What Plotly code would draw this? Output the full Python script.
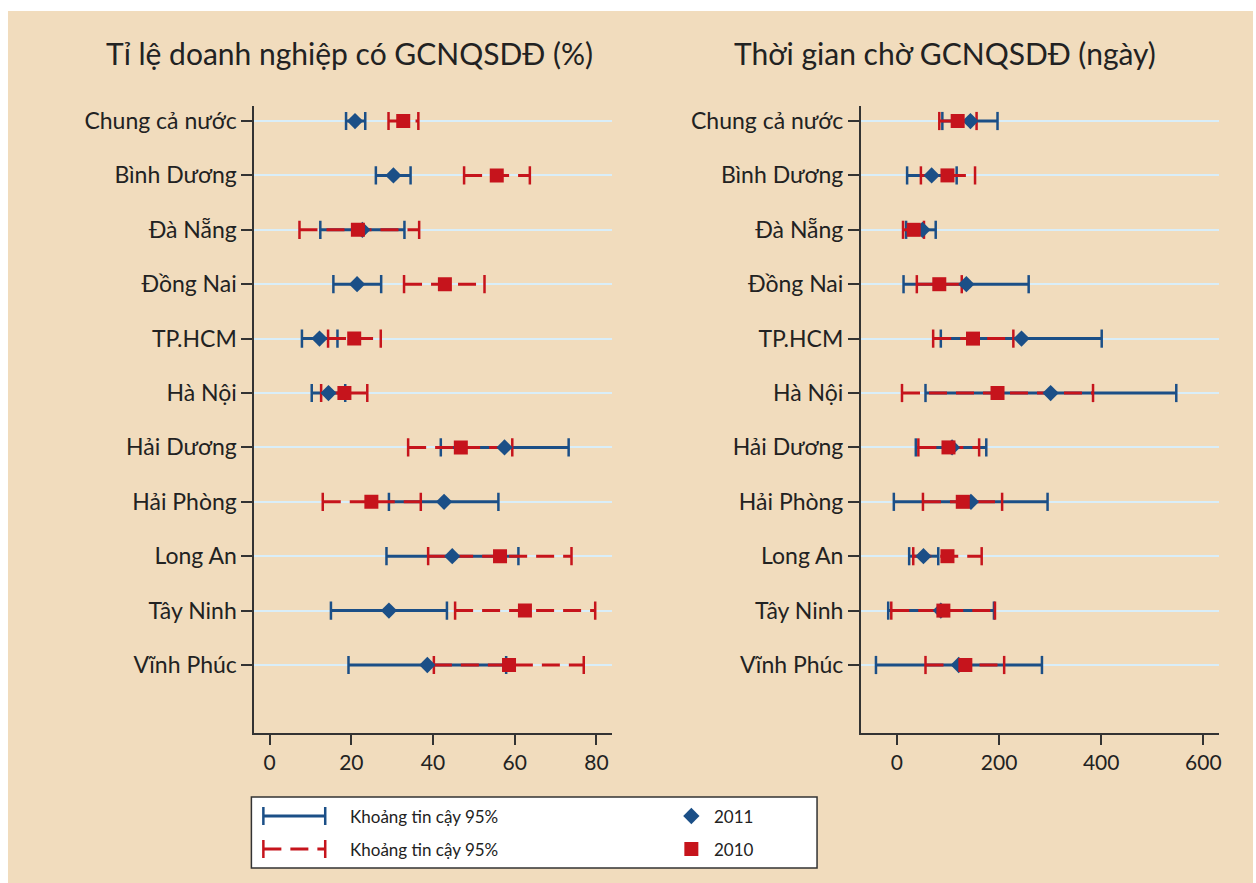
import plotly.graph_objects as go

categories = ["Chung cả nước", "Bình Dương", "Đà Nẵng", "Đồng Nai", "TP.HCM", "Hà Nội",
              "Hải Dương", "Hải Phòng", "Long An", "Tây Ninh", "Vĩnh Phúc"]

# Left panel: share of firms with land-use certificate (%)
pct_2011 = [20.9, 30.3, 22.7, 21.4, 12.2, 14.4, 57.5, 42.7, 44.7, 29.2, 38.6]
pct_2011_lo = [18.7, 26.0, 12.4, 15.6, 7.9, 10.3, 41.9, 29.2, 28.6, 15.0, 19.3]
pct_2011_hi = [23.4, 34.5, 33.0, 27.3, 16.6, 18.5, 73.2, 56.0, 60.9, 43.4, 57.9]
pct_2010 = [32.7, 55.6, 21.6, 42.9, 20.7, 18.3, 46.8, 24.9, 56.4, 62.5, 58.6]
pct_2010_lo = [29.1, 47.6, 7.3, 32.9, 14.3, 12.6, 33.9, 13.0, 38.8, 45.4, 40.2]
pct_2010_hi = [36.4, 63.7, 36.6, 52.6, 27.2, 23.9, 59.4, 37.0, 73.9, 79.7, 76.9]

# Right panel: waiting time for certificate (days)
day_2011 = [144, 68, 50, 136, 244, 301, 108, 145, 52, 86, 121]
day_2011_lo = [89, 20, 18, 13, 86, 56, 37, -6, 24, -17, -41]
day_2011_hi = [197, 117, 76, 258, 401, 547, 175, 295, 81, 190, 284]
day_2010 = [119, 99, 33, 83, 149, 197, 101, 129, 99, 91, 134]
day_2010_lo = [83, 47, 12, 39, 71, 10, 42, 51, 32, -11, 56]
day_2010_hi = [156, 153, 53, 127, 228, 384, 161, 206, 166, 192, 210]

x_ticks_pct = [0, 20, 40, 60, 80]
x_ticks_day = [0, 200, 400, 600]

titles = ["Tỉ lệ doanh nghiệp có GCNQSDĐ (%)", "Thời gian chờ GCNQSDĐ (ngày)"]
legend_ci = "Khoảng tin cậy 95%"
legend_years = ["2011", "2010"]

BLUE = "#1B4F87"
RED = "#C6141C"
BEIGE = "#F1DCBD"
FONT = "Lato"
W, H = 1256, 883

fig = go.Figure()


def ci_traces(lo, hi, color, dash, xa, ya):
    xs, ys = [], []
    for c, a, b in zip(categories, lo, hi):
        xs += [a, b, None]
        ys += [c, c, None]
    fig.add_trace(go.Scatter(x=xs, y=ys, mode="lines", xaxis=xa, yaxis=ya,
                             line=dict(color=color, width=3, dash=dash),
                             hoverinfo="skip", showlegend=False))
    fig.add_trace(go.Scatter(x=list(lo) + list(hi), y=categories + categories, mode="markers",
                             xaxis=xa, yaxis=ya,
                             marker=dict(symbol="line-ns", size=13,
                                         line=dict(color=color, width=2.5)),
                             hoverinfo="skip", showlegend=False))


def points(vals, color, symbol, size, xa, ya):
    fig.add_trace(go.Scatter(x=vals, y=categories, mode="markers", xaxis=xa, yaxis=ya,
                             marker=dict(symbol=symbol, size=size, color=color,
                                         line=dict(width=0)),
                             showlegend=False))


for xa, ya, d in [("x", "y", (pct_2011, pct_2011_lo, pct_2011_hi, pct_2010, pct_2010_lo, pct_2010_hi)),
                  ("x2", "y2", (day_2011, day_2011_lo, day_2011_hi, day_2010, day_2010_lo, day_2010_hi))]:
    v11, l11, h11, v10, l10, h10 = d
    ci_traces(l11, h11, BLUE, "solid", xa, ya)
    ci_traces(l10, h10, RED, "18px,9px", xa, ya)
    points(v11, BLUE, "diamond", 12.5, xa, ya)
    points(v10, RED, "square", 14, xa, ya)

# Legend drawn on a hidden helper axis (pixel-like coordinates inside the legend box)
LX0, LX1, LY0, LY1 = 252, 819, 797, 868
for yy, color, dash in [(816, BLUE, "solid"), (849, RED, "18px,9px")]:
    fig.add_trace(go.Scatter(x=[264, 326], y=[yy, yy], mode="lines", xaxis="x3", yaxis="y3",
                             line=dict(color=color, width=3, dash=dash),
                             hoverinfo="skip", showlegend=False))
    fig.add_trace(go.Scatter(x=[264, 326], y=[yy, yy], mode="markers", xaxis="x3", yaxis="y3",
                             marker=dict(symbol="line-ns", size=13, line=dict(color=color, width=2.5)),
                             hoverinfo="skip", showlegend=False))
fig.add_trace(go.Scatter(x=[693], y=[816], mode="markers", xaxis="x3", yaxis="y3",
                         marker=dict(symbol="diamond", size=12.5, color=BLUE),
                         hoverinfo="skip", showlegend=False))
fig.add_trace(go.Scatter(x=[693], y=[849], mode="markers", xaxis="x3", yaxis="y3",
                         marker=dict(symbol="square", size=14, color=RED),
                         hoverinfo="skip", showlegend=False))

annotations = []
for yy, yr in zip([816, 849], legend_years):
    annotations.append(dict(x=349, y=yy, xref="x3", yref="y3", text=legend_ci, showarrow=False,
                            xanchor="left", yanchor="middle", font=dict(family=FONT, size=17, color="#222")))
    annotations.append(dict(x=714, y=yy, xref="x3", yref="y3", text=yr, showarrow=False,
                            xanchor="left", yanchor="middle", font=dict(family=FONT, size=17, color="#222")))
for t, cx in zip(titles, [350, 947]):
    annotations.append(dict(x=cx / W, y=1 - 53 / H, xref="paper", yref="paper", text=t,
                            showarrow=False, xanchor="center", yanchor="middle",
                            font=dict(family=FONT, size=30, color="#222")))

shapes = [
    dict(type="rect", xref="paper", yref="paper", x0=8 / W, x1=1, y0=0, y1=1 - 11 / H,
         fillcolor=BEIGE, line=dict(width=0), layer="below"),
    dict(type="rect", xref="paper", yref="paper", x0=LX0 / W, x1=LX1 / W,
         y0=1 - LY1 / H, y1=1 - LY0 / H, fillcolor="white",
         line=dict(color="#333", width=1.5), layer="below"),
]

ydom = [1 - 733 / H, 1 - 106 / H]
yrange = [11.25, -0.276]

yax_common = dict(type="category", categoryorder="array", categoryarray=categories,
                  range=yrange, showgrid=True, gridcolor="#D9EEF9", gridwidth=2,
                  showline=True, linecolor="#333", linewidth=2, ticks="outside",
                  ticklen=11, tickwidth=1.5, tickcolor="#333", zeroline=False,
                  tickfont=dict(family=FONT, size=23, color="#222"), fixedrange=True)
xax_common = dict(showgrid=False, zeroline=False, showline=True, linecolor="#333",
                  linewidth=2, ticks="outside", ticklen=10, tickwidth=1.5, tickcolor="#333",
                  tickfont=dict(family=FONT, size=21, color="#222"), fixedrange=True)

fig.update_layout(
    width=W, height=H,
    margin=dict(l=0, r=0, t=0, b=0),
    paper_bgcolor="white",
    plot_bgcolor="white",
    showlegend=False,
    xaxis=dict(domain=[255 / W, 613 / W], range=[-3.74, 83.7], tickvals=x_ticks_pct,
               anchor="y", **xax_common),
    yaxis=dict(domain=ydom, anchor="x", **yax_common),
    xaxis2=dict(domain=[863 / W, 1222 / W], range=[-70.4, 630.8], tickvals=x_ticks_day,
                anchor="y2", **xax_common),
    yaxis2=dict(domain=ydom, anchor="x2", **yax_common),
    xaxis3=dict(domain=[LX0 / W, LX1 / W], range=[LX0, LX1], visible=False, anchor="y3",
                fixedrange=True),
    yaxis3=dict(domain=[1 - LY1 / H, 1 - LY0 / H], range=[LY1, LY0], visible=False, anchor="x3",
                fixedrange=True),
    shapes=shapes,
    annotations=annotations,
)

fig.write_html("out.html", config={"displayModeBar": False},
               post_script="document.body.style.margin='0';document.body.style.overflow='hidden';")
